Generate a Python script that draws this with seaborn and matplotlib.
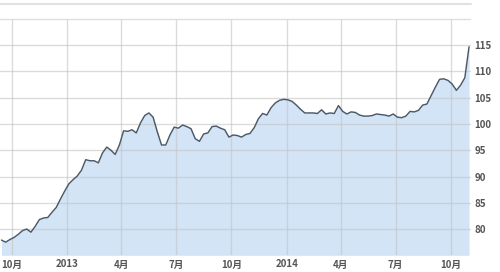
import numpy as np
import pandas as pd
import matplotlib
matplotlib.use('Agg')
import matplotlib.pyplot as plt
import seaborn as sns
from matplotlib.lines import Line2D

# ---- data (weekly) ----
dates = pd.date_range('2012-09-14', periods=112, freq='7D')
values = [
    77.9, 77.5, 78.0, 78.4, 79.0, 79.7, 80.0, 79.4, 80.5, 81.8,
    82.1, 82.2, 83.2, 84.1, 85.7, 87.2, 88.6, 89.4, 90.1, 91.2,
    93.2, 93.0, 93.0, 92.6, 94.5, 95.6, 95.0, 94.2, 96.0, 98.7,
    98.6, 98.9, 98.3, 100.2, 101.6, 102.1, 101.3, 98.5, 96.0, 96.0,
    97.9, 99.4, 99.2, 99.8, 99.5, 99.1, 97.2, 96.7, 98.1, 98.3,
    99.5, 99.6, 99.2, 98.9, 97.5, 97.9, 97.8, 97.5, 98.0, 98.2,
    99.3, 101.0, 102.0, 101.7, 103.1, 104.0, 104.5, 104.7, 104.6, 104.3,
    103.6, 102.8, 102.1, 102.1, 102.1, 102.0, 102.7, 101.9, 102.1, 102.0,
    103.5, 102.4, 101.9, 102.3, 102.2, 101.7, 101.5, 101.5, 101.6, 101.9,
    101.8, 101.7, 101.5, 101.9, 101.3, 101.2, 101.5, 102.4, 102.3, 102.6,
    103.6, 103.8, 105.4, 107.0, 108.5, 108.6, 108.3, 107.6, 106.4, 107.4,
    108.8, 114.7,
]
tick_dates = ['2012-10-01', '2013-01-01', '2013-04-01', '2013-07-01', '2013-10-01',
              '2014-01-01', '2014-04-01', '2014-07-01', '2014-10-01']
tick_labels = ['10月', '2013', '4月', '7月', '10月', '2014', '4月', '7月', '10月']
y_ticks = [80, 85, 90, 95, 100, 105, 110, 115]

df = pd.DataFrame({'date': dates, 'value': values})

sns.set_theme(style='white')
plt.rcParams['font.family'] = ['Noto Sans CJK JP', 'DejaVu Sans']

fig = plt.figure(figsize=(5, 2.72), dpi=100)
ax = fig.add_axes([0.0, 0.0614, 0.941, 0.869])

ax.fill_between(df['date'], df['value'], 75, color='#d3e4f6', zorder=0.3, linewidth=0)
sns.lineplot(data=df, x='date', y='value', ax=ax, color='#4c5a68', linewidth=1.05, zorder=3)

ax.set_xlim(pd.Timestamp('2012-09-11 14:00'), pd.Timestamp('2014-11-02 10:00'))
ax.set_ylim(75, 120)
ax.set_xticks(pd.to_datetime(tick_dates))
ax.set_xticklabels(tick_labels)
ax.set_yticks(y_ticks)
ax.set_yticklabels([str(v) for v in y_ticks])
ax.yaxis.tick_right()
ax.set_xlabel('')
ax.set_ylabel('')

ax.set_axisbelow(True)
ax.grid(True, color='#c4c4c4', alpha=0.6, linewidth=1.0)
ax.tick_params(axis='both', length=0, labelsize=7, labelcolor='#555555')
ax.tick_params(axis='y', pad=3)
ax.tick_params(axis='x', pad=3)
for lab in ax.get_xticklabels() + ax.get_yticklabels():
    lab.set_fontweight('bold')

for s in ['left', 'right', 'bottom']:
    ax.spines[s].set_visible(False)
ax.spines['top'].set_color('#dedede')
ax.spines['top'].set_linewidth(1.0)

fig.add_artist(Line2D([0, 0.941], [1 - 4 / 272, 1 - 4 / 272], transform=fig.transFigure,
                      color='#e2e2e2', linewidth=1.5))

fig.savefig('out.png', dpi=100)
